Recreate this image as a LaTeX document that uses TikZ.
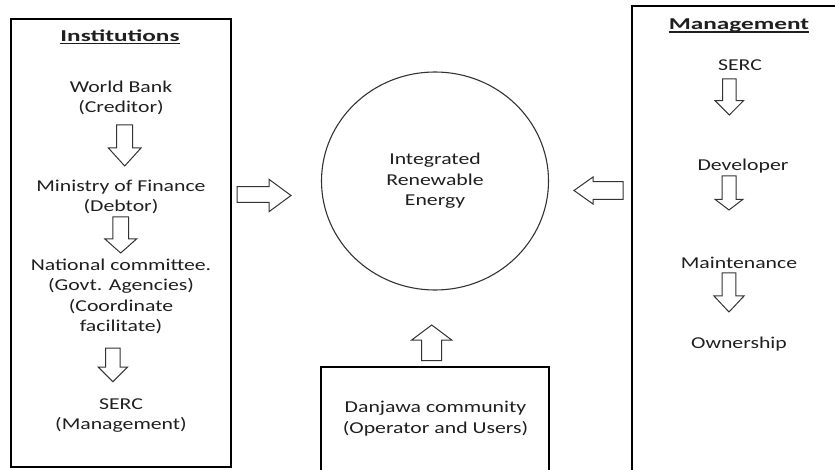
\documentclass[tikz,border=0pt]{standalone}
\usepackage{fontspec}
\usetikzlibrary{shapes.geometric}
\setmainfont{Carlito}[FakeStretch=1.31]
\newfontfamily\headfont{Carlito}[FakeStretch=1.52]
\definecolor{inkc}{HTML}{1F1F1F}
\definecolor{arrowc}{HTML}{333333}

% outlined block arrow pointing down: centre x, top, half body, half head, head base, tip
\newcommand\DownArrow[6]{%
  \draw[blockarrow] (#1-#3,#2) -- (#1+#3,#2) -- (#1+#3,#5) -- (#1+#4,#5)
    -- (#1,#6) -- (#1-#4,#5) -- (#1-#3,#5) -- cycle;}

\begin{document}
\begin{tikzpicture}[x=1pt,y=-1pt,
  lbl/.style={font=\fontsize{16.6}{20.5}\selectfont, text=inkc, align=center, inner sep=0pt},
  head/.style={font=\headfont\bfseries\fontsize{16.6}{20.5}\selectfont, text=inkc, inner sep=0pt},
  frame/.style={draw=black, line width=1.4pt},
  blockarrow/.style={draw=arrowc, line width=1pt, line join=miter},
  hub/.style={draw=arrowc, line width=1.1pt, ellipse, inner sep=0pt,
    minimum width=227pt, minimum height=218pt, align=center,
    font=\fontsize{16.6}{20.5}\selectfont, text=inkc},
  rule/.style={draw=inkc, line width=1.1pt}]

\useasboundingbox (0,0) rectangle (835,470);
\clip (0,0) rectangle (835,470);

% frames
\draw[frame] (11,19) rectangle (231,467);
\draw[frame] (632,6) rectangle (850,480);
\draw[frame] (321,367) rectangle (549,480);

% institutions column
\node[head] (inst) at (120,36) {Institutions};
\draw[rule] ([yshift=-2pt]inst.base west) -- ([yshift=-2pt]inst.base east);
\node[lbl] (wb)   at (121,98)    {World Bank\\(Creditor)};
\node[lbl] (mof)  at (121,197)   {Ministry of Finance\\(Debtor)};
\node[lbl] (nc)   at (121,296.5) {National committee.\\(Govt. Agencies)\\(Coordinate\\facilitate)};
\node[lbl] (serc) at (121,415.5) {SERC\\(Management)};
\DownArrow{124.7}{125}{8}{16.3}{148}{166}
\DownArrow{120.7}{217}{7.8}{15.8}{239}{253}
\DownArrow{112.9}{348}{7.2}{14.7}{367}{381.7}

% management column
\node[head] (mgmt) at (739,25.5) {Management};
\draw[rule] ([yshift=-2.5pt]mgmt.base west) -- ([yshift=-2.5pt]mgmt.base east);
\node[lbl] (serc2) at (740,65)  {SERC};
\node[lbl] (dev)   at (743,166) {Developer};
\node[lbl] (maint) at (739,263) {Maintenance};
\node[lbl] (own)   at (739,344) {Ownership};
\DownArrow{729.3}{79}{6.7}{14.2}{100.7}{115}
\DownArrow{729}{176}{7}{14}{199.3}{210}
\DownArrow{729}{273}{6.8}{15}{296}{312}

% centre
\node[hub] (ire) at (435,181) {Integrated\\Renewable\\Energy};
\node[lbl] (dc) at (435.5,418.5) {Danjawa community\\(Operator and Users)};

% arrows into the centre
\draw[blockarrow] (237,186.7) -- (269,186.7) -- (269,179.3) -- (291,195.5)
  -- (269,211.7) -- (269,202.3) -- (237,202.3) -- cycle;
\draw[blockarrow] (623,181.7) -- (593,181.7) -- (593,177) -- (574,190.5)
  -- (593,204) -- (593,199.3) -- (623,199.3) -- cycle;
\draw[blockarrow] (421.7,360.7) -- (421.7,340) -- (411.7,340) -- (431.7,325)
  -- (451.7,340) -- (441.7,340) -- (441.7,360.7) -- cycle;
\end{tikzpicture}
\end{document}
